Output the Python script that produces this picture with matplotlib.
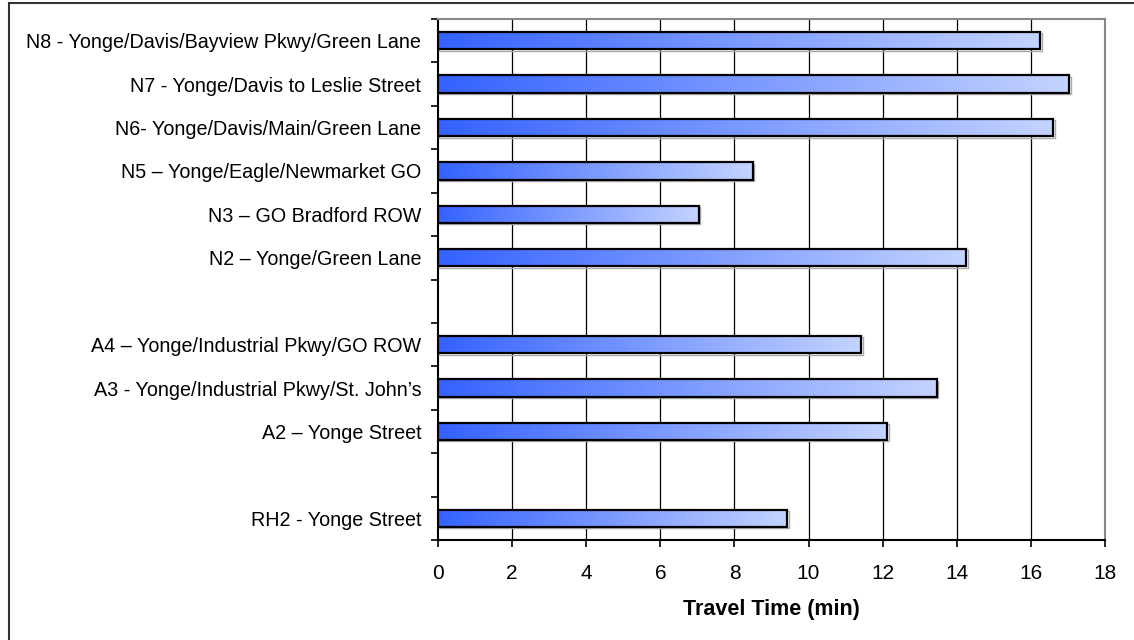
import numpy as np
import matplotlib
matplotlib.use("Agg")
import matplotlib.pyplot as plt
from matplotlib.colors import LinearSegmentedColormap
from matplotlib.patches import Rectangle

plt.rcParams['font.family'] = ['Liberation Sans', 'DejaVu Sans']

categories = [
    "N8 - Yonge/Davis/Bayview Pkwy/Green Lane",
    "N7 - Yonge/Davis to Leslie Street",
    "N6- Yonge/Davis/Main/Green Lane",
    "N5 \u2013 Yonge/Eagle/Newmarket GO",
    "N3 \u2013 GO Bradford ROW",
    "N2 \u2013 Yonge/Green Lane",
    "",
    "A4 \u2013 Yonge/Industrial Pkwy/GO ROW",
    "A3 - Yonge/Industrial Pkwy/St. John\u2019s",
    "A2 \u2013 Yonge Street",
    "",
    "RH2 - Yonge Street",
]
travel_time = [16.25, 17.04, 16.6, 8.5, 7.04, 14.26, None, 11.42, 13.46, 12.12, None, 9.43]
x_ticks = [0, 2, 4, 6, 8, 10, 12, 14, 16, 18]

W, H = 1134, 640
fig = plt.figure(figsize=(W / 100, H / 100), dpi=100)
ax = fig.add_axes([438 / W, 1 - 540 / H, (1105 - 438) / W, (540 - 19) / H])

cmap = LinearSegmentedColormap.from_list("bg", ["#3462ff", "#c4d3ff"])
grad = np.linspace(0, 1, 256).reshape(1, -1)
bar_h = 0.4

ypos = np.arange(len(categories))
for y, v in zip(ypos, travel_time):
    if v is None:
        continue
    ax.imshow(grad, extent=[0, v, y + bar_h / 2, y - bar_h / 2], aspect='auto',
              cmap=cmap, zorder=3, interpolation='bilinear')
    # shadow
    ax.add_patch(Rectangle((0.04, y - bar_h / 2 + 0.03), v, bar_h, facecolor='none',
                           edgecolor='#aaaaaa', lw=1.0, zorder=2.9))
    ax.add_patch(Rectangle((0, y - bar_h / 2), v, bar_h, facecolor='none',
                           edgecolor='black', lw=1.6, zorder=4))

ax.set_xlim(0, 18)
ax.set_ylim(len(categories) - 0.5, -0.5)
ax.set_xticks(x_ticks)
ax.set_xticklabels([str(t) for t in x_ticks], fontsize=15)
ax.set_yticks(ypos)
ax.set_yticklabels(categories, fontsize=14.2)
ax.set_yticks(np.arange(len(categories) + 1) - 0.5, minor=True)
ax.tick_params(axis='y', which='major', length=0, pad=12)
ax.tick_params(axis='y', which='minor', length=5, width=1.2, direction='out', color='black')
ax.tick_params(axis='x', which='major', length=5, width=1.2, direction='out', pad=12)

for t in x_ticks[1:-1]:
    ax.axvline(t, color='black', lw=0.9, zorder=1)

ax.spines['left'].set_color('black')
ax.spines['left'].set_linewidth(1.5)
ax.spines['bottom'].set_color('black')
ax.spines['bottom'].set_linewidth(1.5)
ax.spines['top'].set_color('#888888')
ax.spines['top'].set_linewidth(1.5)
ax.spines['right'].set_color('#888888')
ax.spines['right'].set_linewidth(1.5)

ax.set_xlabel("Travel Time (min)", fontsize=15.5, fontweight='bold', labelpad=12)

# figure border (left and top visible)
fig.add_artist(Rectangle((9 / W, -0.1), 1.2, 1.1 - 3 / H, transform=fig.transFigure,
                         facecolor='none', edgecolor='#333333', lw=1.5, clip_on=False))

fig.savefig("out.png", dpi=100)
